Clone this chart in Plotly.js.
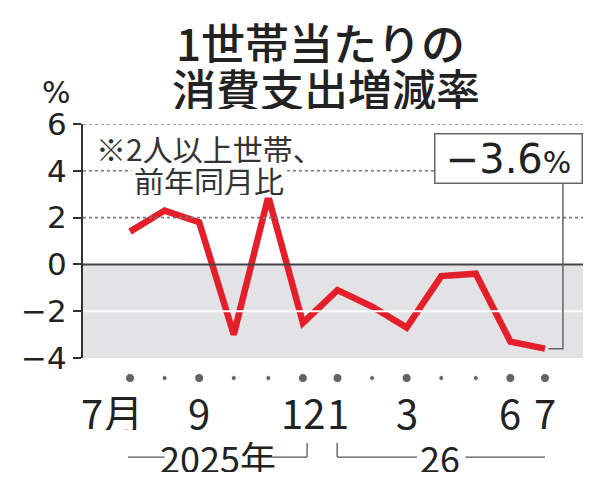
<!DOCTYPE html>
<html>
<head>
<meta charset="utf-8">
<script src="https://cdn.plot.ly/plotly-3.0.1.min.js"></script>
<style>
  html, body { margin: 0; padding: 0; background: #fff; }
  #plot { width: 600px; height: 487px; }
</style>
</head>
<body>
<div id="plot"></div>
<script>
"use strict";

// Monthly change in consumption spending per household, Jul 2025 → Jul 2026.
const monthIdx   = [0, 1, 2, 3, 4, 5, 6, 7, 8, 9, 10, 11, 12];
const changePct  = [1.4, 2.3, 1.8, -3.0, 2.9, -2.5, -1.1, -1.8, -2.7, -0.5, -0.4, -3.3, -3.6];
const labelIdx   = [0, 2, 5, 6, 8, 11, 12];
const labelText  = ["7月", "9", "12", "1", "3", "6", "7"];
const bigDotIdx  = [0, 2, 5, 6, 8, 11, 12];
const yTicks     = [-4, -2, 0, 2, 4, 6];
const latestText = "−3.6";

const JP = "'Noto Sans CJK JP', 'Noto Sans', sans-serif";
const NUM = "'DejaVu Sans', sans-serif";
const NARROW = "'Liberation Sans Narrow', 'Noto Sans CJK JP', sans-serif";
const INK = "#222";

// ── marks ──
const lineTrace = {
    type: "scatter", mode: "lines",
    x: monthIdx, y: changePct,
    xaxis: "x", yaxis: "y",
    line: { color: "#e41f2b", width: 6.5 },
    hoverinfo: "skip",
};
// month dots under the axis (big where a label sits), on their own strip axis
const dotTrace = {
    type: "scatter", mode: "markers",
    x: monthIdx, y: monthIdx.map(() => 0.45),
    xaxis: "x", yaxis: "y2",
    marker: { color: INK,
              size: monthIdx.map(i => bigDotIdx.includes(i) ? 9 : 5) },
    hoverinfo: "skip",
};

// ── background: shaded negative zone + gridlines ──
const hline = (y, color, width, dash) => ({
    type: "line", xref: "paper", x0: 0, x1: 1, yref: "y", y0: y, y1: y,
    line: { color: color, width: width, dash: dash || "solid" },
});
const seg = (x0, x1, y0, y1) => ({
    type: "line", xref: "x", yref: "paper", x0: x0, x1: x1, y0: y0, y1: y1,
    line: { color: "#555", width: 1.3 },
});
const last = monthIdx.length - 1;
const BR = -0.252, BT = -0.199;
const shapes = [
    { type: "rect", xref: "paper", x0: 0, x1: 1, yref: "y", y0: -4, y1: 0,
      fillcolor: "#e3e3e5", line: { width: 0 }, layer: "below" },
    hline(6, "#7a7a7a", 1.6, "dot"),
    hline(4, "#7a7a7a", 1.6, "dot"),
    hline(2, "#7a7a7a", 1.6, "dot"),
    hline(-2, "#ffffff", 2),
    hline(0, "#444", 2),
    // connector from the latest point up to the value box
    { type: "path", xref: "x", yref: "y",
      path: `M ${monthIdx[last] + 0.1},${changePct[last]} L ${monthIdx[last] + 0.52},${changePct[last]} L ${monthIdx[last] + 0.52},3.48`,
      line: { color: "#666", width: 1.5 } },
    // year brackets
    seg(-0.06, 1.0, BR, BR),
    seg(4.1, 5.12, BR, BR),
    seg(5.12, 5.12, BR, BT),
    seg(5.99, 5.99, BR, BT),
    seg(5.99, 8.3, BR, BR),
    seg(9.7, 12.0, BR, BR),
];

// ── text ──
const monthLabels = labelIdx.map((m, i) => ({
    xref: "x", yref: "paper", x: m, y: -0.083,
    text: labelText[i], showarrow: false,
    xanchor: "center", yanchor: "middle", height: 36,
    xshift: i === 0 ? -18 : 0,
    font: { family: JP, size: 40, color: INK },
}));
const annotations = [
    { xref: "paper", yref: "paper", x: 0.474, y: 1.308, text: "1世帯当たりの",
      showarrow: false, xanchor: "center", yanchor: "middle", height: 42,
      font: { family: JP, size: 44, color: INK, weight: 500 } },
    { xref: "paper", yref: "paper", x: 0.485, y: 1.135, text: "消費支出増減率",
      showarrow: false, xanchor: "center", yanchor: "middle", height: 42,
      font: { family: JP, size: 44, color: INK, weight: 500 } },
    { xref: "paper", yref: "paper", x: -0.054, y: 1.117, text: "%",
      showarrow: false, xanchor: "center", yanchor: "middle",
      font: { family: NUM, size: 30, color: INK } },
    { xref: "paper", yref: "paper", x: 0.252, y: 0.789, text: "前年同月比",
      showarrow: false, xanchor: "center", yanchor: "middle", height: 30,
      bgcolor: "#fff", borderpad: 2,
      font: { family: JP, size: 30, color: "#333" } },
    { xref: "paper", yref: "paper", x: 0.252, y: 0.910, text: "※2人以上世帯、",
      showarrow: false, xanchor: "center", yanchor: "middle", height: 30,
      font: { family: JP, size: 30, color: "#333" } },
    { xref: "paper", yref: "paper", x: 1, y: 0.966,
      text: latestText + "<span style='font-size:30px'>%</span>",
      showarrow: false, xanchor: "right", yanchor: "top",
      width: 144, height: 46, align: "center", valign: "middle",
      bgcolor: "#fff", bordercolor: "#666", borderwidth: 1.5, borderpad: 1,
      font: { family: NUM, size: 40, color: INK } },
    { xref: "x", yref: "paper", x: 2.53, y: BR, text: "2025年",
      showarrow: false, xanchor: "center", yanchor: "middle", height: 30,
      font: { family: NARROW, size: 36, color: INK } },
    { xref: "x", yref: "paper", x: 8.97, y: BR, text: "26",
      showarrow: false, xanchor: "center", yanchor: "middle", height: 30,
      font: { family: NARROW, size: 36, color: INK } },
    ...monthLabels,
];

const layout = {
    width: 600, height: 487,
    margin: { l: 83, r: 17, t: 124, b: 97 },
    paper_bgcolor: "#fff", plot_bgcolor: "#fff",
    showlegend: false,
    xaxis: {
        range: [-1.36, 13.1], showgrid: false, zeroline: false,
        showticklabels: false, ticks: "", fixedrange: true, anchor: "y",
    },
    yaxis: {
        domain: [0.1203, 1],
        range: [-4, 6], tickvals: yTicks,
        ticks: "outside", ticklen: 8, tickwidth: 2, tickcolor: "#333",
        showline: true, linecolor: "#333", linewidth: 2,
        showgrid: false, zeroline: false,
        tickfont: { family: NUM, size: 31, color: INK },
        fixedrange: true,
    },
    yaxis2: {
        domain: [0, 0.1], range: [0, 1],
        visible: false, fixedrange: true,
    },
    shapes: shapes,
    annotations: annotations,
};

Plotly.newPlot("plot", [lineTrace, dotTrace], layout,
    { staticPlot: true, displayModeBar: false });
</script>
</body>
</html>
